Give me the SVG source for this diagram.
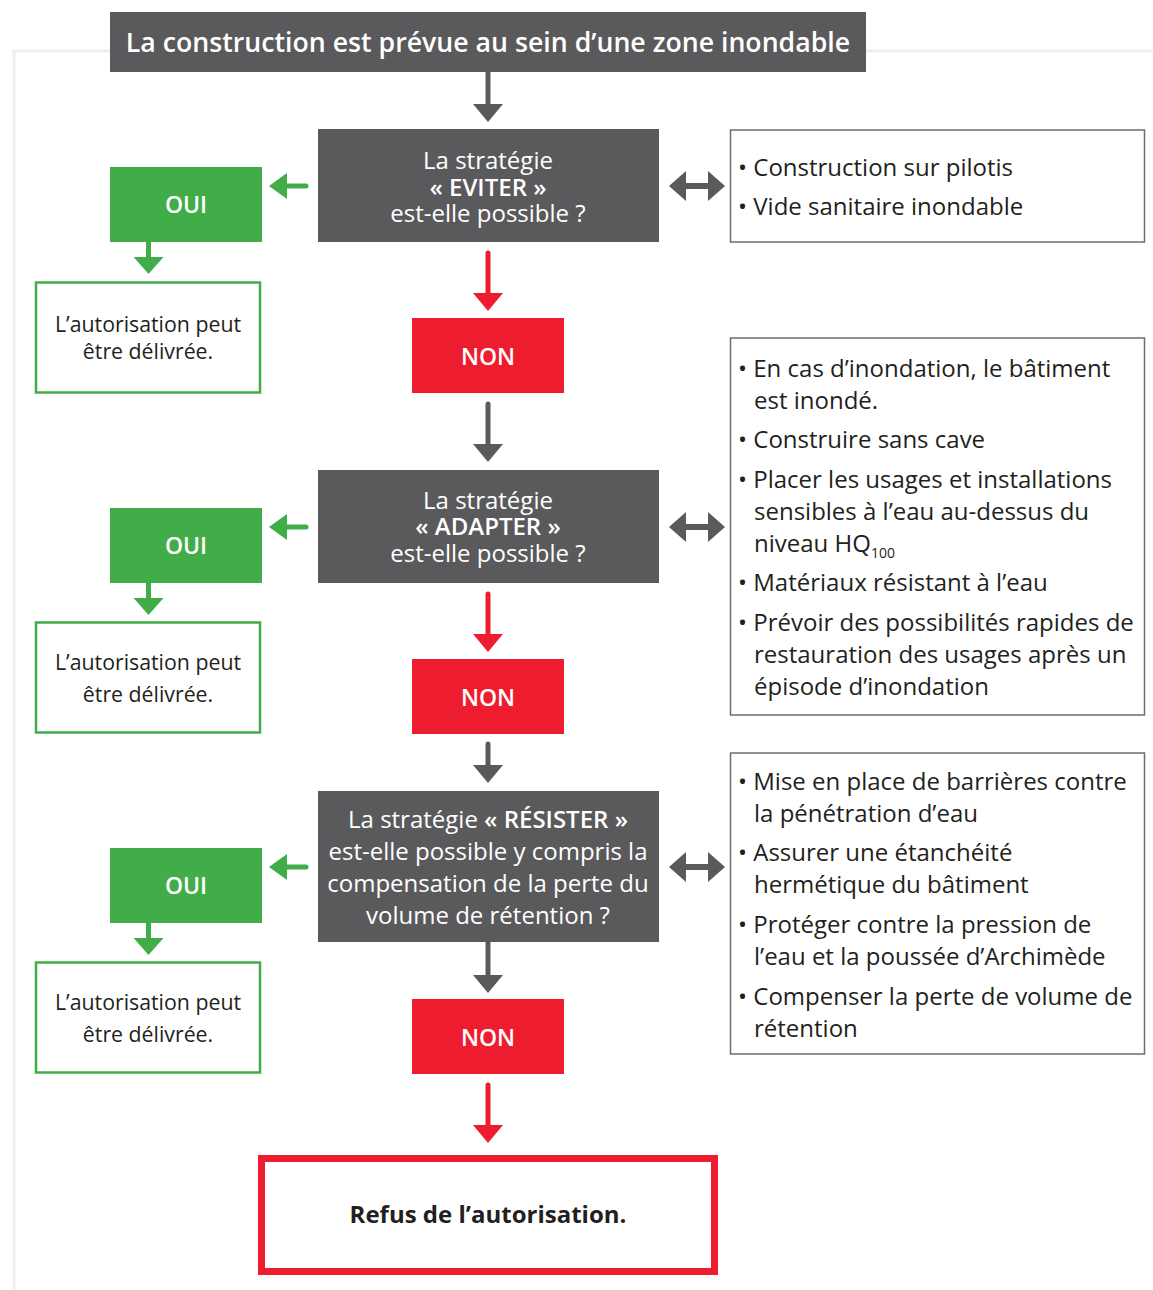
<svg xmlns="http://www.w3.org/2000/svg" width="1153" height="1290" viewBox="0 0 1153 1290">
<style>
text{font-family:"Open Sans","DejaVu Sans",sans-serif}
.w{fill:#fff}
.c{text-anchor:middle}
.q{font-size:24px}
.b{font-weight:600}
.t{font-size:24px;fill:#231f20}
.g{font-size:21.3px;fill:#231f20}
.dark{fill:#5a5a5c}
.grn{fill:#41ad49}
.red{fill:#ed1c2e}
.box{fill:#fff;stroke:#6d6d6d;stroke-width:1.5}
.gbox{fill:#fff;stroke:#41ad49;stroke-width:2.5}
</style>
<defs>
<marker id="hd" markerUnits="userSpaceOnUse" markerWidth="18" markerHeight="30" viewBox="0 0 18 30" refX="0" refY="15" orient="auto"><path d="M0,0 L18,15 L0,30 z" fill="#5a5a5c"/></marker>
<marker id="hr" markerUnits="userSpaceOnUse" markerWidth="18" markerHeight="30" viewBox="0 0 18 30" refX="0" refY="15" orient="auto"><path d="M0,0 L18,15 L0,30 z" fill="#ed1c2e"/></marker>
<marker id="hg" markerUnits="userSpaceOnUse" markerWidth="17" markerHeight="30" viewBox="0 0 17 30" refX="0" refY="15" orient="auto"><path d="M0,0 L17,15 L0,30 z" fill="#41ad49"/></marker>
<marker id="hgl" markerUnits="userSpaceOnUse" markerWidth="18" markerHeight="26" viewBox="0 0 18 26" refX="0" refY="13" orient="auto"><path d="M0,0 L18,13 L0,26 z" fill="#41ad49"/></marker>
<marker id="hdd" markerUnits="userSpaceOnUse" markerWidth="17" markerHeight="30" viewBox="0 0 17 30" refX="0" refY="15" orient="auto-start-reverse"><path d="M0,0 L17,15 L0,30 z" fill="#5a5a5c"/></marker>
</defs>

<path d="M14,1290 V51 H1153" fill="none" stroke="#efefef" stroke-width="3"/>

<g id="connectors" fill="none" stroke-width="5">
<line x1="488" y1="72" x2="488" y2="104" stroke="#5a5a5c" marker-end="url(#hd)"/>
<line x1="488" y1="253" x2="488" y2="293" stroke="#ed1c2e" stroke-linecap="round" marker-end="url(#hr)"/>
<line x1="488" y1="404" x2="488" y2="444" stroke="#5a5a5c" stroke-linecap="round" marker-end="url(#hd)"/>
<line x1="488" y1="594" x2="488" y2="634" stroke="#ed1c2e" stroke-linecap="round" marker-end="url(#hr)"/>
<line x1="488" y1="744" x2="488" y2="765" stroke="#5a5a5c" stroke-linecap="round" marker-end="url(#hd)"/>
<line x1="488" y1="942" x2="488" y2="975" stroke="#5a5a5c" marker-end="url(#hd)"/>
<line x1="488" y1="1085" x2="488" y2="1125" stroke="#ed1c2e" stroke-linecap="round" marker-end="url(#hr)"/>
<line x1="306" y1="186" x2="287" y2="186" stroke="#41ad49" stroke-linecap="round" marker-end="url(#hgl)"/>
<line x1="306" y1="527" x2="287" y2="527" stroke="#41ad49" stroke-linecap="round" marker-end="url(#hgl)"/>
<line x1="306" y1="867" x2="287" y2="867" stroke="#41ad49" stroke-linecap="round" marker-end="url(#hgl)"/>
<line x1="148.5" y1="242" x2="148.5" y2="257" stroke="#41ad49" marker-end="url(#hg)"/>
<line x1="148.5" y1="583" x2="148.5" y2="598" stroke="#41ad49" marker-end="url(#hg)"/>
<line x1="148.5" y1="923" x2="148.5" y2="938" stroke="#41ad49" marker-end="url(#hg)"/>
<line x1="686" y1="186" x2="708" y2="186" stroke="#5a5a5c" stroke-width="6" marker-start="url(#hdd)" marker-end="url(#hdd)"/>
<line x1="686" y1="527" x2="708" y2="527" stroke="#5a5a5c" stroke-width="6" marker-start="url(#hdd)" marker-end="url(#hdd)"/>
<line x1="686" y1="867" x2="708" y2="867" stroke="#5a5a5c" stroke-width="6" marker-start="url(#hdd)" marker-end="url(#hdd)"/>
</g>

<g id="title">
<rect x="110" y="12" width="756" height="60" class="dark"/>
<text x="488" y="52" class="w c b" font-size="26.7">La construction est prévue au sein d’une zone inondable</text>
</g>

<g id="q1">
<rect x="318" y="129" width="341" height="113" class="dark"/>
<text class="w c q"><tspan x="488" y="169">La stratégie</tspan><tspan x="488" y="196" font-weight="600">« EVITER »</tspan><tspan x="488" y="222">est-elle possible ?</tspan></text>
</g>
<g id="oui1">
<rect x="110" y="167" width="152" height="75" class="grn"/>
<text x="186" y="213" class="w c b" font-size="23">OUI</text>
</g>
<g id="ok1">
<rect x="36" y="282.5" width="224" height="110" class="gbox"/>
<text class="g c"><tspan x="148" y="332">L’autorisation peut</tspan><tspan x="148" y="359">être délivrée.</tspan></text>
</g>
<g id="non1">
<rect x="412" y="318" width="152" height="75" class="red"/>
<text x="488" y="365" class="w c b" font-size="23">NON</text>
</g>
<g id="info1">
<rect x="730.5" y="130" width="414" height="112" class="box"/>
<text class="t"><tspan x="738" y="176">• Construction sur pilotis</tspan><tspan x="738" y="215">• Vide sanitaire inondable</tspan></text>
</g>

<g id="q2">
<rect x="318" y="470" width="341" height="113" class="dark"/>
<text class="w c q"><tspan x="488" y="509">La stratégie</tspan><tspan x="488" y="535" font-weight="600">« ADAPTER »</tspan><tspan x="488" y="562">est-elle possible ?</tspan></text>
</g>
<g id="oui2">
<rect x="110" y="508" width="152" height="75" class="grn"/>
<text x="186" y="554" class="w c b" font-size="23">OUI</text>
</g>
<g id="ok2">
<rect x="36" y="622.5" width="224" height="110" class="gbox"/>
<text class="g c"><tspan x="148" y="670">L’autorisation peut</tspan><tspan x="148" y="702">être délivrée.</tspan></text>
</g>
<g id="non2">
<rect x="412" y="659" width="152" height="75" class="red"/>
<text x="488" y="706" class="w c b" font-size="23">NON</text>
</g>
<g id="info2">
<rect x="730.5" y="338" width="414" height="377" class="box"/>
<text class="t"><tspan x="738" y="377">• En cas d’inondation, le bâtiment</tspan><tspan x="754" y="409">est inondé.</tspan><tspan x="738" y="448">• Construire sans cave</tspan><tspan x="738" y="488">• Placer les usages et installations</tspan><tspan x="754" y="520">sensibles à l’eau au-dessus du</tspan><tspan x="754" y="552">niveau HQ</tspan><tspan font-size="14" dy="6">100</tspan><tspan x="738" y="591">• Matériaux résistant à l’eau</tspan><tspan x="738" y="631">• Prévoir des possibilités rapides de</tspan><tspan x="754" y="663">restauration des usages après un</tspan><tspan x="754" y="695">épisode d’inondation</tspan></text>
</g>

<g id="q3">
<rect x="318" y="791" width="341" height="151" class="dark"/>
<text class="w c q"><tspan x="488" y="828">La stratégie <tspan font-weight="600">« RÉSISTER »</tspan></tspan><tspan x="488" y="860">est-elle possible y compris la</tspan><tspan x="488" y="892">compensation de la perte du</tspan><tspan x="488" y="924">volume de rétention ?</tspan></text>
</g>
<g id="oui3">
<rect x="110" y="848" width="152" height="75" class="grn"/>
<text x="186" y="894" class="w c b" font-size="23">OUI</text>
</g>
<g id="ok3">
<rect x="36" y="962.5" width="224" height="110" class="gbox"/>
<text class="g c"><tspan x="148" y="1010">L’autorisation peut</tspan><tspan x="148" y="1042">être délivrée.</tspan></text>
</g>
<g id="non3">
<rect x="412" y="999" width="152" height="75" class="red"/>
<text x="488" y="1046" class="w c b" font-size="23">NON</text>
</g>
<g id="info3">
<rect x="730.5" y="753" width="414" height="301" class="box"/>
<text class="t"><tspan x="738" y="790">• Mise en place de barrières contre</tspan><tspan x="754" y="822">la pénétration d’eau</tspan><tspan x="738" y="861">• Assurer une étanchéité</tspan><tspan x="754" y="893">hermétique du bâtiment</tspan><tspan x="738" y="933">• Protéger contre la pression de</tspan><tspan x="754" y="965">l’eau et la poussée d’Archimède</tspan><tspan x="738" y="1005">• Compenser la perte de volume de</tspan><tspan x="754" y="1037">rétention</tspan></text>
</g>

<g id="refus">
<rect x="261.5" y="1158.5" width="453" height="113" fill="#fff" stroke="#ed1c2e" stroke-width="7"/>
<text x="488" y="1223" class="c" font-size="24" font-weight="700" fill="#231f20">Refus de l’autorisation.</text>
</g>
</svg>
